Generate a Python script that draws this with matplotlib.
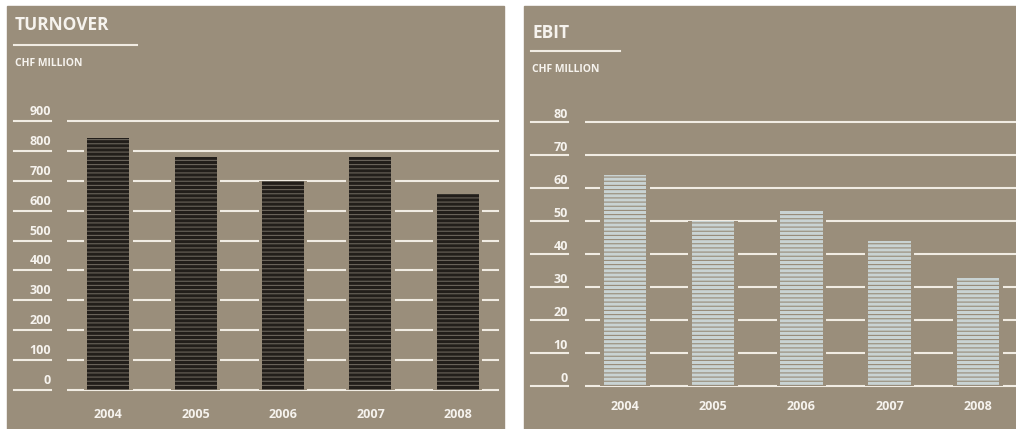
import matplotlib
matplotlib.use("Agg")
import matplotlib.pyplot as plt
from matplotlib.patches import Rectangle
from matplotlib.lines import Line2D
from matplotlib import transforms

years = ["2004", "2005", "2006", "2007", "2008"]
turnover = [842, 778, 700, 778, 656]
ebit = [64, 50, 53, 44, 32.5]
turnover_ticks = [0, 100, 200, 300, 400, 500, 600, 700, 800, 900]
ebit_ticks = [0, 10, 20, 30, 40, 50, 60, 70, 80]

W, H = 1016, 429
BG = "#9a8e7b"
LINE = "#f1ece3"
TEXT = "#f6f3ee"

plt.rcParams["font.family"] = ["Open Sans", "DejaVu Sans"]
plt.rcParams["hatch.linewidth"] = 0.8

fig = plt.figure(figsize=(W / 100, H / 100), dpi=100)
fig.patch.set_facecolor("white")


def fx(px):
    return px / W


def fy(py):
    return 1 - py / H


def panel(x0, x1, title, t_y, ul_y, ul_x1, sub_y,
          ax_x0, ax_x1, y_zero, y_top, top_val, ticks,
          tick_x0, tick_x1, lab_dy, year_y, vals,
          xpad_l, xpad_r, face, hatch_col):
    # panel background sits below the axes
    fig.patches.append(Rectangle((fx(x0), 0), fx(x1) - fx(x0), fy(6),
                                 transform=fig.transFigure, color=BG, zorder=-5))
    fig.text(fx(x0 + 8), fy(t_y), title, color=TEXT, fontsize=12.5,
             fontweight="bold", va="center", ha="left")
    fig.lines.append(Line2D([fx(x0 + 7), fx(ul_x1)], [fy(ul_y), fy(ul_y)],
                            transform=fig.transFigure, color=LINE, lw=1.5))
    fig.text(fx(x0 + 8), fy(sub_y), "CHF MILLION", color=TEXT, fontsize=7.5,
             fontweight="bold", va="center", ha="left")

    # data area: pad the value range so edge gridlines are not clipped
    ppu = (y_zero - y_top) / top_val
    pad = 12 / ppu
    bottom_px = y_zero + pad * ppu
    top_px = y_top - pad * ppu
    ax = fig.add_axes([fx(ax_x0), fy(bottom_px), fx(ax_x1) - fx(ax_x0),
                       fy(top_px) - fy(bottom_px)])
    ax.set_facecolor("none")
    ax.set_ylim(-pad, top_val + pad)
    ax.set_xlim(-xpad_l, len(vals) - 1 + xpad_r)
    ax.axis("off")

    for v in ticks:
        ax.axhline(v, color=LINE, lw=1.5, zorder=1)

    xs = range(len(vals))
    ax.bar(xs, vals, width=0.56, color=BG, linewidth=0, zorder=2)
    ax.bar(xs, vals, width=0.48, facecolor=face, edgecolor=hatch_col,
           linewidth=0, hatch="----", zorder=3)

    blend = transforms.blended_transform_factory(fig.transFigure, ax.transData)
    lab_tr = transforms.offset_copy(blend, fig=fig, y=lab_dy, units="dots")
    for v in ticks:
        ax.plot([fx(tick_x0), fx(tick_x1)], [v, v], transform=blend,
                color=LINE, lw=1.5, clip_on=False)
        ax.text(fx(tick_x1), v, str(v), transform=lab_tr, color=TEXT,
                fontsize=9, fontweight="bold", ha="right", va="center")

    ytr = transforms.blended_transform_factory(ax.transData, fig.transFigure)
    for i, yr in enumerate(years):
        ax.text(i, fy(year_y), yr, transform=ytr, color=TEXT, fontsize=9,
                fontweight="bold", ha="center", va="center")
    return ax


panel(7, 504, "TURNOVER", 25, 44.5, 137, 63,
      67, 499, 390, 121, 900, turnover_ticks,
      14, 51, 9.5, 414, turnover,
      0.469, 0.469, "#221e1a", "#6a645b")

panel(524, 1016, "EBIT", 33, 51, 620, 70,
      585, 1016, 385.7, 121.7, 80, ebit_ticks,
      531, 568, 7, 407, ebit,
      0.453, 0.433, "#c9d3d3", "#978b78")

fig.savefig("out.png", dpi=100, facecolor=fig.get_facecolor())
